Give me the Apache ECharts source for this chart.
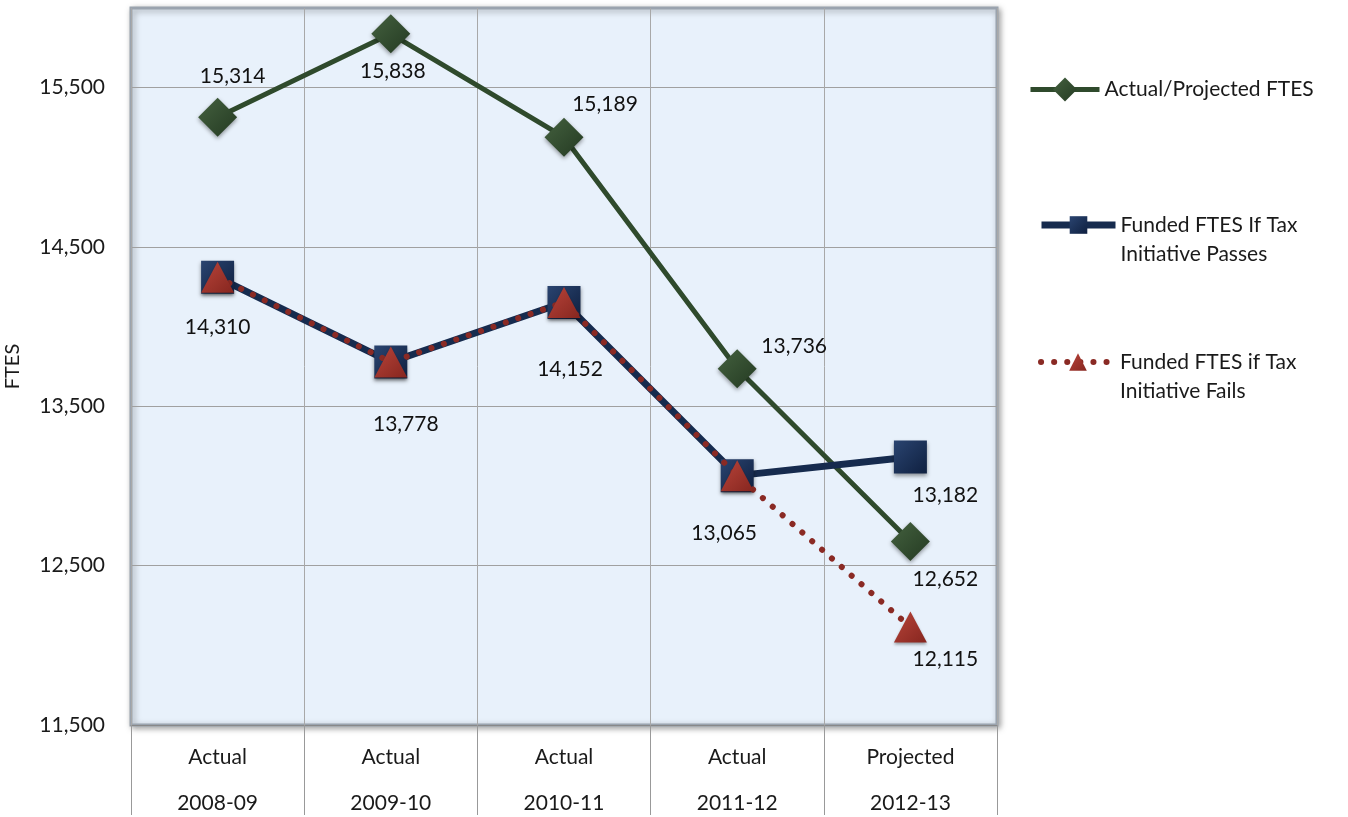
<!DOCTYPE html>
<html><head><meta charset="utf-8">
<script src="https://cdn.jsdelivr.net/npm/echarts@6/dist/echarts.min.js"></script>
<style>html,body{margin:0;padding:0;background:#fff}#c{width:1348px;height:817px}</style>
</head><body><div id="c"></div>
<script>
const categories = ['Actual\n2008-09','Actual\n2009-10','Actual\n2010-11','Actual\n2011-12','Projected\n2012-13'];
const actualFTES = [15314, 15838, 15189, 13736, 12652];
const fundedPasses = [14310, 13778, 14152, 13065, 13182];
const fundedFails = [14310, 13778, 14152, 13065, 12115];
const seriesNames = ['Actual/Projected FTES','Funded FTES If Tax Initiative Passes','Funded FTES if Tax Initiative Fails'];
const legendLabels = ['Actual/Projected FTES','\nFunded FTES If Tax\nInitiative Passes','\nFunded FTES if Tax\nInitiative Fails'];
const yMin = 11500, yMax = 16000, yStep = 500;

// label offsets (styling only)
const greenOffsets = [[15,-41],[2,37],[41,-33],[57,-22],[35,38]];
const blueOffsets = [[0,50],[15,62],[6,67],[-13,58],[35,38]];
const redOffsets = [null,null,null,null,[35,32]];

const FONT = 'Lato';
const fmt = v => v.toLocaleString('en-US');

function withLabels(values, offsets) {
  return values.map((v, i) => ({
    value: v,
    label: offsets[i] ? { show: true, position: 'inside', offset: offsets[i], formatter: p => fmt(p.value) } : { show: false }
  }));
}

const green = '#2f4a2c', blue = '#162b4e', red = '#8a2a24';
function grad(c1, c2) {
  return new echarts.graphic.LinearGradient(0, 0, 1, 1, [{offset:0,color:c1},{offset:1,color:c2}]);
}

const el = document.getElementById('c');
const chart = echarts.init(el);
const legendBase = {
  orient: 'vertical', padding: 0,
  textStyle: { fontFamily: FONT, fontSize: 21, color: '#1a1a1a', lineHeight: 29 },
  formatter: name => legendLabels[seriesNames.indexOf(name)]
};
chart.setOption({
  animation: false,
  textStyle: { fontFamily: FONT },
  grid: { left: 131, right: 351, top: 8, height: 717, show: true, outerBoundsMode: 'none', containLabel: false,
    backgroundColor: '#e8f1fb', borderColor: '#9aa3ae', borderWidth: 3,
    shadowColor: 'rgba(0,0,0,0.35)', shadowBlur: 6, shadowOffsetX: 2, shadowOffsetY: 2 },
  legend: [
    Object.assign({}, legendBase, { left: 1028, itemWidth: 69, itemHeight: 30, top: 75, data: [seriesNames[0]], lineStyle: { width: 5 } }),
    Object.assign({}, legendBase, { left: 1038, itemWidth: 74, itemHeight: 22, top: 181.5, data: [seriesNames[1]], lineStyle: { width: 7 } }),
    Object.assign({}, legendBase, { left: 1038, itemWidth: 74, itemHeight: 22, top: 318.5, data: [seriesNames[2]], lineStyle: { width: 6 } })
  ],
  xAxis: {
    type: 'category', data: categories, boundaryGap: true,
    axisLine: { show: true, lineStyle: { color: '#888', width: 1 } },
    axisTick: { show: true, interval: 0, length: 90, lineStyle: { color: '#999', width: 1 } },
    axisLabel: { interval: 0, margin: 9, fontSize: 21, color: '#1a1a1a', lineHeight: 46, fontFamily: FONT },
    splitLine: { show: true, interval: 0, lineStyle: { color: '#a8a8a8', width: 1 } }
  },
  yAxis: {
    type: 'value', min: yMin, max: yMax, interval: yStep,
    name: 'FTES', nameLocation: 'middle', nameGap: 108, nameRotate: 90,
    nameTextStyle: { fontFamily: FONT, fontSize: 20, color: '#1a1a1a' },
    axisLine: { show: false }, axisTick: { show: false },
    axisLabel: { margin: 26, fontSize: 21, color: '#1a1a1a', fontFamily: FONT,
      formatter: v => ((v - yMin) % 1000 === 0 && v < yMax) ? fmt(v) : '' },
    splitLine: { show: true, lineStyle: { color: ['#a0a0a0', 'rgba(0,0,0,0)'], width: 1 } }
  },
  series: [
    {
      name: seriesNames[0], type: 'line', data: withLabels(actualFTES, greenOffsets), z: 3,
      symbol: 'diamond', symbolSize: 39,
      lineStyle: { color: green, width: 5 },
      itemStyle: { color: grad('#44613f', '#243a22'), shadowColor: 'rgba(0,0,0,0.4)', shadowBlur: 4, shadowOffsetY: 2 },
      label: { fontSize: 21, color: '#111', fontFamily: FONT }
    },
    {
      name: seriesNames[1], type: 'line', data: withLabels(fundedPasses, blueOffsets), z: 4,
      symbol: 'rect', symbolSize: 33,
      lineStyle: { color: blue, width: 7 },
      itemStyle: { color: grad('#2a4470', '#0f2040'), shadowColor: 'rgba(0,0,0,0.4)', shadowBlur: 4, shadowOffsetY: 2 },
      label: { fontSize: 21, color: '#111', fontFamily: FONT }
    },
    {
      name: seriesNames[2], type: 'line', data: withLabels(fundedFails, redOffsets), z: 5,
      symbol: 'triangle', symbolSize: [33, 31],
      lineStyle: { color: red, width: 6, type: [0.1, 13], cap: 'round' },
      itemStyle: { color: grad('#b8443a', '#86261f'), shadowColor: 'rgba(0,0,0,0.35)', shadowBlur: 3, shadowOffsetY: 2 },
      label: { fontSize: 21, color: '#111', fontFamily: FONT }
    }
  ]
});
</script></body></html>
